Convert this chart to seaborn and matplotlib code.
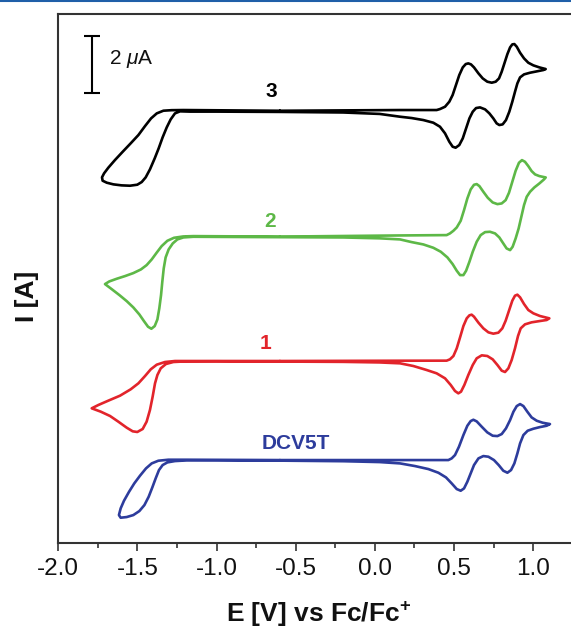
import matplotlib
matplotlib.use("Agg")
import matplotlib.pyplot as plt
from matplotlib.ticker import MultipleLocator, FormatStrFormatter
from matplotlib.lines import Line2D
import numpy as np
import pandas as pd
import seaborn as sns

# ---------- data: E in V vs Fc/Fc+, I in uA relative to each curve's baseline ----------
# curve "3" (black)
E3_up = [-0.60, 0.159, 0.390, 0.411, 0.443, 0.470, 0.491, 0.512, 0.533, 0.555, 0.574, 0.590, 0.607,
         0.626, 0.654, 0.681, 0.710, 0.738, 0.763, 0.784, 0.801, 0.818, 0.837, 0.854, 0.868, 0.881,
         0.896, 0.917, 0.942, 0.969, 1.001, 1.039, 1.079]
I3_up = [0.01, 0.035, 0.035, 0.069, 0.150, 0.324, 0.556, 0.903, 1.250, 1.516, 1.632, 1.655, 1.620,
         1.516, 1.308, 1.134, 1.019, 0.984, 1.019, 1.134, 1.366, 1.655, 1.979, 2.211, 2.315, 2.326,
         2.234, 2.025, 1.829, 1.678, 1.586, 1.516, 1.458]
E3_dn = [1.064, 1.022, 0.980, 0.942, 0.917, 0.900, 0.885, 0.868, 0.849, 0.828, 0.807, 0.786, 0.769,
         0.748, 0.723, 0.696, 0.664, 0.639, 0.618, 0.597, 0.576, 0.555, 0.533, 0.510, 0.491, 0.470,
         0.443, 0.411, 0.369, 0.306, 0.232, 0.159, 0.03, -0.20, -0.60, -1.00]
I3_dn = [1.424, 1.377, 1.331, 1.273, 1.169, 0.961, 0.671, 0.324, -0.023, -0.313, -0.463, -0.486, -0.428,
         -0.255, -0.081, 0.058, 0.127, 0.104, -0.023, -0.255, -0.602, -0.949, -1.181, -1.273, -1.238, -1.065,
         -0.775, -0.544, -0.405, -0.313, -0.243, -0.197, -0.10, -0.05, -0.03, -0.02]
E3_lp = [-1.168, -1.231, -1.263, -1.290, -1.315, -1.341, -1.366, -1.391, -1.421, -1.448, -1.473, -1.501,
         -1.547, -1.600, -1.652, -1.694, -1.720, -1.724, -1.711, -1.684, -1.642, -1.593, -1.543, -1.494,
         -1.452, -1.414, -1.378, -1.336, -1.284, -1.210, -0.60]
I3_lp = [-0.02, -0.01, -0.081, -0.289, -0.567, -0.914, -1.296, -1.643, -2.025, -2.303, -2.465, -2.558,
         -2.593, -2.581, -2.546, -2.488, -2.419, -2.303, -2.164, -1.967, -1.701, -1.412, -1.123, -0.833,
         -0.521, -0.255, -0.081, 0.012, 0.030, 0.035, 0.01]

# curve "2" (green)
E2_up = [-0.60, 0.159, 0.453, 0.474, 0.496, 0.517, 0.542, 0.563, 0.584, 0.605, 0.626, 0.643, 0.660,
         0.685, 0.713, 0.744, 0.774, 0.801, 0.826, 0.847, 0.868, 0.889, 0.910, 0.929, 0.948, 0.969,
         0.990, 1.012, 1.039, 1.079]
I2_up = [0.0, 0.04, 0.052, 0.110, 0.203, 0.318, 0.550, 0.920, 1.325, 1.638, 1.800, 1.823, 1.754,
         1.557, 1.348, 1.186, 1.128, 1.152, 1.267, 1.522, 1.904, 2.286, 2.564, 2.656, 2.598, 2.448,
         2.274, 2.159, 2.101, 2.054]
E2_dn = [1.068, 1.039, 1.007, 0.980, 0.959, 0.942, 0.925, 0.908, 0.889, 0.870, 0.854, 0.832, 0.811,
         0.786, 0.759, 0.727, 0.696, 0.668, 0.643, 0.618, 0.597, 0.576, 0.559, 0.538, 0.517, 0.491,
         0.458, 0.416, 0.369, 0.306, 0.232, 0.159, 0.03, -0.20, -0.60, -1.00]
I2_dn = [1.985, 1.846, 1.707, 1.557, 1.383, 1.094, 0.689, 0.284, -0.064, -0.353, -0.469, -0.411, -0.237,
         -0.029, 0.110, 0.168, 0.156, 0.052, -0.179, -0.526, -0.874, -1.186, -1.337, -1.337, -1.186, -0.955,
         -0.723, -0.526, -0.388, -0.272, -0.191, -0.098, -0.06, -0.03, -0.02, -0.01]
E2_lp = [-1.147, -1.210, -1.248, -1.277, -1.303, -1.322, -1.334, -1.343, -1.351, -1.362, -1.374, -1.391,
         -1.412, -1.433, -1.459, -1.488, -1.526, -1.568, -1.614, -1.663, -1.705, -1.678, -1.631, -1.579,
         -1.526, -1.478, -1.442, -1.410, -1.379, -1.347, -1.311, -1.269, -1.210, -1.147, -0.60]
I2_lp = [-0.006, -0.029, -0.098, -0.237, -0.446, -0.723, -1.105, -1.568, -2.031, -2.494, -2.876, -3.107,
         -3.200, -3.131, -2.934, -2.703, -2.460, -2.240, -2.031, -1.823, -1.649, -1.557, -1.464, -1.372,
         -1.267, -1.140, -0.990, -0.793, -0.561, -0.330, -0.145, -0.041, 0.006, 0.017, 0.0]

# curve "1" (red)
E1_up = [-0.60, 0.159, 0.453, 0.474, 0.496, 0.517, 0.538, 0.559, 0.580, 0.597, 0.611, 0.626, 0.654,
         0.685, 0.717, 0.748, 0.780, 0.805, 0.826, 0.847, 0.868, 0.885, 0.900, 0.917, 0.942, 0.969,
         1.001, 1.043, 1.102]
I1_up = [0.0, 0.01, 0.012, 0.058, 0.174, 0.440, 0.822, 1.215, 1.481, 1.586, 1.609, 1.539, 1.331,
         1.134, 0.995, 0.949, 0.984, 1.134, 1.400, 1.748, 2.095, 2.269, 2.303, 2.211, 1.979, 1.771,
         1.655, 1.562, 1.481]
E1_dn = [1.085, 1.043, 0.990, 0.948, 0.921, 0.904, 0.885, 0.864, 0.843, 0.822, 0.801, 0.774, 0.744,
         0.710, 0.675, 0.643, 0.618, 0.590, 0.565, 0.544, 0.527, 0.506, 0.479, 0.443, 0.390, 0.327,
         0.243, 0.159, 0.03, -0.20, -0.60, -1.00]
I1_dn = [1.424, 1.389, 1.343, 1.273, 1.134, 0.868, 0.440, 0.035, -0.255, -0.382, -0.336, -0.139, 0.058,
         0.174, 0.197, 0.093, -0.139, -0.486, -0.833, -1.065, -1.123, -1.042, -0.833, -0.602, -0.428, -0.313,
         -0.174, -0.081, -0.05, -0.03, -0.02, -0.01]
E1_lp = [-1.189, -1.273, -1.320, -1.353, -1.374, -1.389, -1.404, -1.421, -1.442, -1.467, -1.501, -1.530,
         -1.568, -1.621, -1.673, -1.732, -1.789, -1.747, -1.684, -1.610, -1.543, -1.494, -1.452, -1.416,
         -1.378, -1.326, -1.263, -1.189, -0.60]
I1_lp = [-0.012, -0.035, -0.104, -0.255, -0.486, -0.775, -1.238, -1.701, -2.106, -2.361, -2.465, -2.442,
         -2.315, -2.106, -1.910, -1.759, -1.643, -1.528, -1.377, -1.204, -0.984, -0.775, -0.521, -0.289,
         -0.127, -0.035, 0.000, 0.000, 0.0]

# curve "DCV5T" (blue)
ED_up = [-0.60, 0.159, 0.464, 0.485, 0.506, 0.531, 0.559, 0.584, 0.605, 0.622, 0.643, 0.675, 0.710,
         0.744, 0.774, 0.801, 0.828, 0.854, 0.875, 0.896, 0.917, 0.938, 0.963, 0.990, 1.022, 1.060, 1.106]
ID_up = [0.0, 0.0, 0.0, 0.058, 0.174, 0.463, 0.868, 1.192, 1.354, 1.400, 1.343, 1.157, 0.961,
         0.845, 0.833, 0.903, 1.100, 1.389, 1.678, 1.875, 1.944, 1.875, 1.678, 1.481, 1.366, 1.296, 1.250]
ED_dn = [1.085, 1.043, 1.001, 0.965, 0.938, 0.917, 0.900, 0.881, 0.860, 0.837, 0.811, 0.782, 0.752,
         0.717, 0.685, 0.654, 0.626, 0.605, 0.584, 0.563, 0.542, 0.517, 0.485, 0.449, 0.401, 0.338,
         0.253, 0.159, 0.03, -0.20, -0.60, -1.00]
ID_dn = [1.192, 1.146, 1.088, 1.019, 0.868, 0.579, 0.231, -0.116, -0.347, -0.440, -0.370, -0.174, 0.000,
         0.116, 0.139, 0.058, -0.174, -0.463, -0.752, -0.984, -1.065, -1.007, -0.810, -0.602, -0.440, -0.313,
         -0.208, -0.116, -0.07, -0.04, -0.02, -0.01]
ED_lp = [-1.189, -1.263, -1.311, -1.341, -1.364, -1.385, -1.406, -1.429, -1.456, -1.488, -1.526, -1.568,
         -1.606, -1.617, -1.606, -1.585, -1.553, -1.520, -1.484, -1.446, -1.410, -1.368, -1.305, -1.189, -0.60]
ID_lp = [-0.012, -0.035, -0.081, -0.174, -0.347, -0.637, -0.949, -1.273, -1.563, -1.771, -1.910, -1.979,
         -2.002, -1.910, -1.678, -1.412, -1.100, -0.810, -0.544, -0.289, -0.116, -0.023, 0.012, 0.012, 0.0]

curve_names = ["3", "2", "1", "DCV5T"]
curve_colors = ["#000000", "#5DB847", "#E2242B", "#2D3C9C"]
curve_offsets = [15.0, 10.64, 6.32, 2.88]          # vertical stacking (uA)
label_pos_E = [-0.656, -0.66, -0.694, -0.498]
label_dy = [0.69, 0.51, 0.62, 0.56]

SCALE_BAR_UA = 2.0
xticks = [-2.0, -1.5, -1.0, -0.5, 0.0, 0.5, 1.0]

# ---------------- build table ----------------
curve_E = [E3_up + E3_dn + E3_lp, E2_up + E2_dn + E2_lp, E1_up + E1_dn + E1_lp, ED_up + ED_dn + ED_lp]
curve_I = [I3_up + I3_dn + I3_lp, I2_up + I2_dn + I2_lp, I1_up + I1_dn + I1_lp, ID_up + ID_dn + ID_lp]
frames = []
for name, E, I, off in zip(curve_names, curve_E, curve_I, curve_offsets):
    frames.append(pd.DataFrame({"E": E, "I": np.array(I) + off, "curve": name}))
df = pd.concat(frames, ignore_index=True)

# ---------------- style ----------------
sns.set_theme(style="white")
plt.rcParams["font.family"] = ["Liberation Sans", "DejaVu Sans"]
plt.rcParams["axes.unicode_minus"] = False
plt.rcParams["mathtext.fontset"] = "custom"
plt.rcParams["mathtext.rm"] = "Liberation Sans"
plt.rcParams["mathtext.it"] = "Liberation Sans:italic"
plt.rcParams["mathtext.bf"] = "Liberation Sans:bold"

W, H = 571, 629
fig = plt.figure(figsize=(W / 100, H / 100), dpi=100)
ax = fig.add_axes([58.3 / W, (H - 543) / H, 522.4 / W, 529 / H])

sns.lineplot(data=df, x="E", y="I", hue="curve", hue_order=curve_names,
             palette=curve_colors, sort=False, estimator=None, legend=False,
             linewidth=1.9, ax=ax, solid_joinstyle="round", solid_capstyle="round")

ax.set_xlim(-2.0, 1.3)
ax.set_ylim(0, 18.37)
ax.set_xticks(xticks)
ax.xaxis.set_major_formatter(FormatStrFormatter("%.1f"))
ax.xaxis.set_minor_locator(MultipleLocator(0.25))
ax.set_yticks([])
ax.set_xlabel("")
ax.set_ylabel("")
ax.tick_params(axis="x", which="major", direction="out", length=6, width=1.2,
               color="#333333", labelsize=17.5, pad=5, bottom=True, labelcolor="#111111")
ax.tick_params(axis="x", which="minor", direction="out", length=3.5, width=1.2,
               color="#333333", bottom=True)
for s in ["left", "bottom", "top", "right"]:
    ax.spines[s].set_color("#333333")
    ax.spines[s].set_linewidth(1.5)

# curve labels
for name, col, off, ex, dy in zip(curve_names, curve_colors, curve_offsets, label_pos_E, label_dy):
    ax.text(ex, off + dy, name, color=col, fontsize=15, fontweight="bold",
            ha="center", va="center")

# scale bar
ax.errorbar([-1.79], [16.61], yerr=[SCALE_BAR_UA / 2], color="black", capsize=6,
            elinewidth=1.5, capthick=1.5, fmt="none")
ax.text(-1.68, 16.81, r"2 $\mu$A", fontsize=15, ha="left", va="center", color="#111111")

# axis labels
fig.text(319 / W, 1 - 614 / H, r"E [V] vs Fc/Fc$^{\mathbf{+}}$", fontsize=19,
         fontweight="bold", ha="center", va="center", color="#111111")
fig.text(27 / W, 1 - 296.7 / H, "I [A]", fontsize=19, fontweight="bold",
         rotation=90, ha="center", va="center", color="#111111")

# journal header rule
fig.add_artist(Line2D([0, 1], [1 - 1 / H, 1 - 1 / H], transform=fig.transFigure,
                      color="#1F5FA8", linewidth=1.5))

fig.savefig("out.png", dpi=100, facecolor="white")
